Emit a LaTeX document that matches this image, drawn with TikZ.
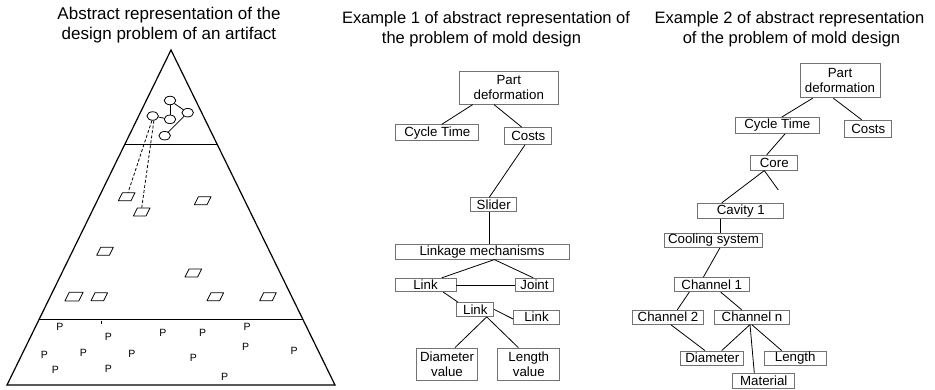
\documentclass[tikz,border=0pt]{standalone}
\usepackage{fontspec}
\setmainfont{Liberation Sans}
\usetikzlibrary{shapes.geometric,calc}
\begin{document}
\begin{tikzpicture}[x=1pt,y=-1pt,
  title/.style={anchor=base,inner sep=0,font=\fontsize{16.5}{20}\selectfont},
  bigtitle/.style={title,font=\fontsize{17}{20}\selectfont},
  box/.style={draw=black!55,line width=0.8pt,rectangle,inner sep=0,
    font=\fontsize{13.3}{15}\selectfont,align=center},
  link/.style={draw=black,line width=0.8pt},
  edge/.style={line width=1.2pt,line cap=round},
  dot/.style={draw,ellipse,line width=0.8pt,minimum width=11.5pt,minimum height=8.5pt,inner sep=0},
  pmark/.style={inner sep=0,font=\fontsize{10.5}{10.5}\selectfont},
  pgram/.pic={\draw[line width=0.8pt,line join=round] (-8.3,4) -- (4.3,4) -- (8.3,-4) -- (-4.3,-4) -- cycle;
    \coordinate (-top) at (0,-4);}]
\useasboundingbox (0,0) rectangle (935,390);

% ---------- titles ----------
\node[bigtitle] (t1a) at (169,19.2) {Abstract representation of the};
\node[bigtitle] (t1b) at (169,39.2) {design problem of an artifact};
\node[title] (t2a) at (486,23.2) {Example 1 of abstract representation of};
\node[title] (t2b) at (481.5,43.2) {the problem of mold design};
\node[title] (t3a) at (789.5,23.2) {Example 2 of abstract representation};
\node[title] (t3b) at (791.5,43.2) {of the problem of mold design};

% ---------- layered triangle ----------
\coordinate (apex) at (171,50);
\coordinate (bl) at (7,385);
\coordinate (br) at (335,385);
\draw[edge,line join=miter] (apex) -- (bl) -- (br) -- cycle;
\draw[edge] ($(apex)!0.2815!(bl)$) -- ($(apex)!0.2815!(br)$);
\draw[edge] ($(apex)!0.804!(bl)$) coordinate (l2a) -- ($(apex)!0.804!(br)$);
\draw[line width=0.6pt] (101,320.5) -- (101,323.5);

% network of elements in the top layer
\node[dot] (c1) at (170,100.5) {};
\node[dot] (c2) at (187.7,112.7) {};
\node[dot] (c3) at (170,119.3) {};
\node[dot] (c4) at (152.7,116) {};
\node[dot] (c5) at (164.7,135.7) {};
\draw[link] (c1) -- (c3);
\draw[link] (c1) -- (c2);
\draw[link] (c4) -- (c3);
\draw[link] (c2) -- (c5);

% modules in the middle layer
\pic (q1) at (126.7,196.7) {pgram};
\pic (q2) at (141.7,212) {pgram};
\pic (q3) at (202.7,200.7) {pgram};
\pic (q4) at (105,251.3) {pgram};
\pic (q5) at (193.3,273) {pgram};
\pic[scale=1.1] (q6) at (74,296.7) {pgram};
\pic (q7) at (99.3,296.7) {pgram};
\pic (q8) at (215.3,296.7) {pgram};
\pic (q9) at (268,296.7) {pgram};
\draw[link,dash pattern=on 3pt off 2pt] (c4.-100) -- ([xshift=1.3pt]q1-top);
\draw[link,dash pattern=on 3pt off 2pt] (c4.-75) -- (q2-top);

% parameters in the bottom layer
\foreach \n/\px/\py in {p1/60/327.3, p2/108.3/337.3, p3/163/333.3, p4/202.7/333.3,
  p5/247/327.3, p6/44.3/355, p7/83.3/352.7, p8/132/354.3, p9/193.3/358.3,
  p10/245.7/346.7, p11/294/350.7, p12/55.3/370.3, p13/108.3/369.3, p14/224.7/376.7}
  \node[pmark] (\n) at (\px,\py) {P};

% ---------- example 1 ----------
\node[box,minimum width=99pt,minimum height=33pt] (pd1) at (508.8,87.7) {Part\\deformation};
\node[box,minimum width=83pt,minimum height=16pt] (ct1) at (437.3,132.8) {Cycle Time};
\node[box,minimum width=47pt,minimum height=17pt] (co1) at (528.3,136) {Costs};
\node[box,minimum width=46pt,minimum height=14pt] (sl) at (493.7,204.7) {Slider};
\node[box,minimum width=174pt,minimum height=15pt] (lm) at (482,251.7) {Linkage mechanisms};
\node[box,minimum width=61pt,minimum height=13.5pt] (lk1) at (425.5,285) {Link};
\node[box,minimum width=38pt,minimum height=13.5pt] (jt) at (534.5,285) {Joint};
\node[box,minimum width=37pt,minimum height=14pt] (lk2) at (475.3,309.5) {Link};
\node[box,minimum width=46pt,minimum height=14pt] (lk3) at (536.5,317) {Link};
\node[box,minimum width=61pt,minimum height=32pt] (dv) at (447,364) {Diameter\\value};
\node[box,minimum width=62pt,minimum height=32pt] (lv) at (528.8,364) {Length\\value};

\draw[link] ([xshift=-36.1pt]pd1.south) -- ([xshift=4.4pt]ct1.north);
\draw[link] ([xshift=-14.8pt]pd1.south) -- ([xshift=-6.6pt]co1.north);
\draw[link] ([xshift=-3.3pt]co1.south) -- ([xshift=-4.4pt]sl.north);
\draw[link] ([xshift=-4.4pt]sl.south) -- ([xshift=7.3pt]lm.north);
\draw[link] ([xshift=12.3pt]lm.south) -- ([xshift=16.2pt]lk1.north);
\draw[link] ([xshift=12.3pt]lm.south) -- ([xshift=-1.2pt]jt.north);
\draw[link] (lk1.east) -- (jt.west);
\draw[link] ([xshift=17.8pt]lk1.south) -- ([xshift=1.5pt]lk2.north west);
\draw[link] (lk2.east) -- ([yshift=-2pt]lk3.west);
\draw[link] ([xshift=11.4pt]lk2.south) -- ([xshift=8pt]dv.north);
\draw[link] ([xshift=11.4pt]lk2.south) -- ([xshift=-10.5pt]lv.north);

% ---------- example 2 ----------
\node[box,minimum width=80pt,minimum height=34pt] (pd2) at (840,80.8) {Part\\deformation};
\node[box,minimum width=84pt,minimum height=16pt] (ct2) at (777.3,125.5) {Cycle Time};
\node[box,minimum width=47pt,minimum height=17pt] (co2) at (868.3,128.7) {Costs};
\node[box,minimum width=47pt,minimum height=15pt] (cr) at (774.3,162.7) {Core};
\node[box,minimum width=86pt,minimum height=15pt] (cv) at (740.8,210.8) {Cavity 1};
\node[box,minimum width=98pt,minimum height=14pt] (cs) at (713.5,240.3) {Cooling system};
\node[box,minimum width=75pt,minimum height=14pt] (ch1) at (711.8,284.7) {Channel 1};
\node[box,minimum width=71pt,minimum height=14pt] (ch2) at (668,317.2) {Channel 2};
\node[box,minimum width=75pt,minimum height=14pt] (chn) at (752,317.2) {Channel n};
\node[box,minimum width=63pt,minimum height=14pt] (dm) at (712.3,358) {Diameter};
\node[box,minimum width=62pt,minimum height=14pt] (ln) at (795.2,358) {Length};
\node[box,minimum width=62pt,minimum height=15pt] (mt) at (763.8,380.8) {Material};
\coordinate (crfree) at (778.3,190);

\draw[link] ([xshift=-27.3pt]pd2.south) -- ([xshift=4.4pt]ct2.north);
\draw[link] ([xshift=-6.7pt]pd2.south) -- ([xshift=-6.6pt]co2.north);
\draw[link] ([xshift=7.7pt]ct2.south) -- ([xshift=-7.6pt]cr.north);
\draw[link] ([xshift=-10pt]cr.south) -- ([xshift=-19.1pt]cv.north);
\draw[link] ([xshift=-10pt]cr.south) -- (crfree);
\draw[link] ([xshift=-20.1pt]cv.south) -- ([xshift=7.2pt]cs.north);
\draw[link] ([xshift=6.5pt]cs.south) -- ([xshift=-8.5pt]ch1.north);
\draw[link] ([xshift=-22.5pt]ch1.south) -- ([xshift=9.3pt]ch2.north);
\draw[link] ([xshift=8.9pt]ch1.south) -- ([xshift=-10.3pt]chn.north);
\draw[link] ([xshift=2.7pt]ch2.south) -- ([xshift=-7.3pt]dm.north);
\draw[link] ([xshift=-2pt]chn.south) -- ([xshift=9.4pt]dm.north);
\draw[link] ([xshift=-2pt]chn.south) -- ([xshift=-9.5pt]mt.north);
\draw[link] ([xshift=-0.3pt]chn.south) -- ([xshift=-13.5pt]ln.north);
\end{tikzpicture}
\end{document}
